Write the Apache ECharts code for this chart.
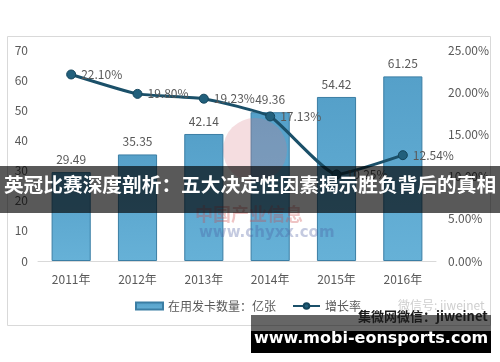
<!DOCTYPE html>
<html>
<head>
<meta charset="utf-8">
<script src="https://cdn.jsdelivr.net/npm/echarts@6/dist/echarts.min.js"></script>
<style>
html,body{margin:0;padding:0;background:#fff;}
#chart{width:500px;height:362px;}
</style>
</head>
<body>
<div id="chart"></div>
<script>
const categories = ['2011年', '2012年', '2013年', '2014年', '2015年', '2016年'];
const cardCounts = [29.49, 35.35, 42.14, 49.36, 54.42, 61.25];
const growthRates = [22.10, 19.80, 19.23, 17.13, 10.25, 12.54];
const leftTicks = [0, 10, 20, 30, 40, 50, 60, 70];
const rightTicks = [0, 5, 10, 15, 20, 25];
const seriesNames = ['在用发卡数量：亿张', '增长率'];
const titleText = '英冠比赛深度剖析：五大决定性因素揭示胜负背后的真相';
const siteText = 'www.mobi-eonsports.com';

const chart = echarts.init(document.getElementById('chart'), null, {renderer: 'canvas'});
const gray = '#595959';
const fontFam = '"Noto Sans CJK SC", "Open Sans", sans-serif';

chart.setOption({
  animation: false,
  backgroundColor: '#fff',
  textStyle: {fontFamily: fontFam},
  grid: {left: 38, right: 64, top: 50, bottom: 101, containLabel: false},
  legend: {
    left: 130, top: 295,
    itemWidth: 27, itemHeight: 7, itemGap: 16,
    textStyle: {color: gray, fontSize: 12, fontFamily: fontFam},
    data: [{name: seriesNames[0], icon: 'rect'}, {name: seriesNames[1]}]
  },
  xAxis: {
    type: 'category', data: categories,
    axisLine: {lineStyle: {color: '#d9d9d9', width: 1}},
    axisTick: {show: false},
    axisLabel: {color: gray, fontSize: 12, margin: 12}
  },
  yAxis: [{
    type: 'value', min: leftTicks[0], max: leftTicks[leftTicks.length - 1],
    interval: leftTicks[1] - leftTicks[0],
    splitLine: {show: false}, axisLine: {show: false}, axisTick: {show: false},
    axisLabel: {color: gray, fontSize: 12, margin: 10}
  }, {
    type: 'value', min: rightTicks[0], max: rightTicks[rightTicks.length - 1],
    interval: rightTicks[1] - rightTicks[0],
    splitLine: {show: false}, axisLine: {show: false}, axisTick: {show: false},
    axisLabel: {color: gray, fontSize: 12, margin: 12, formatter: v => v.toFixed(2) + '%'}
  }],
  series: [{
    name: seriesNames[0], type: 'bar', data: cardCounts, barWidth: '59%',
    itemStyle: {
      color: new echarts.graphic.LinearGradient(0, 0, 0, 1, [
        {offset: 0, color: '#55a0c9'}, {offset: 1, color: '#66b1d7'}
      ]),
      borderColor: '#3b7ea4', borderWidth: 1
    },
    label: {show: true, position: 'top', distance: 7, color: gray, fontSize: 12}
  }, {
    name: seriesNames[1], type: 'line', yAxisIndex: 1, data: growthRates,
    smooth: 0.15, symbol: 'circle', symbolSize: 9,
    lineStyle: {color: '#1b5069', width: 3},
    itemStyle: {color: '#22607c', borderColor: '#15465c', borderWidth: 1},
    label: {show: true, position: 'right', distance: 5, color: gray, fontSize: 12,
      formatter: p => p.value.toFixed(2) + '%'},
    z: 5
  }],
  graphic: [
    {type: 'rect', z: 0, silent: true, shape: {x: 7.5, y: 36.5, width: 483, height: 289},
      style: {fill: 'none', stroke: '#d9d9d9', lineWidth: 1}},
    {type: 'circle', z: 3, silent: true, shape: {cx: 255, cy: 150, r: 32},
      style: {fill: 'rgba(214,120,130,0.25)'}},
    {type: 'text', z: 3, silent: true, x: 195, y: 214,
      style: {text: '中国产业信息', fill: 'rgba(205,70,70,0.32)', font: 'bold 18px "Noto Sans CJK SC"', textVerticalAlign: 'middle'}},
    {type: 'text', z: 3, silent: true, x: 199, y: 233,
      style: {text: 'www.chyxx.com', fill: 'rgba(70,90,160,0.32)', font: 'bold 15px "DejaVu Sans"', textVerticalAlign: 'middle'}},
    {type: 'text', z: 3, silent: true, x: 398, y: 305,
      style: {text: '微信号: jiweinet', fill: '#cfcfcf', font: '12px "Noto Sans CJK SC"', textVerticalAlign: 'middle'}},
    {type: 'rect', z: 100, silent: true, shape: {x: 0, y: 166, width: 500, height: 47},
      style: {fill: 'rgba(0,0,0,0.65)'}},
    {type: 'text', z: 101, silent: true, x: 250, y: 185,
      style: {text: titleText, fill: '#fff', font: 'bold 19.7px "Noto Sans CJK SC"', textAlign: 'center', textVerticalAlign: 'middle'}},
    {type: 'rect', z: 100, silent: true, shape: {x: 251, y: 315, width: 240, height: 16},
      style: {fill: 'rgba(0,0,0,0.6)'}},
    {type: 'text', z: 101, silent: true, x: 358, y: 316,
      style: {text: '集微网微信：jiweinet', fill: '#1a1a1a', font: 'bold 13px "Noto Sans CJK SC"', textVerticalAlign: 'middle'}},
    {type: 'rect', z: 100, silent: true, shape: {x: 251, y: 331, width: 240, height: 22},
      style: {fill: '#000'}},
    {type: 'text', z: 101, silent: true, x: 371, y: 339,
      style: {text: siteText, fill: '#fff', font: 'bold 16px "DejaVu Sans"', textAlign: 'center', textVerticalAlign: 'middle'}}
  ]
});
</script>
</body>
</html>
